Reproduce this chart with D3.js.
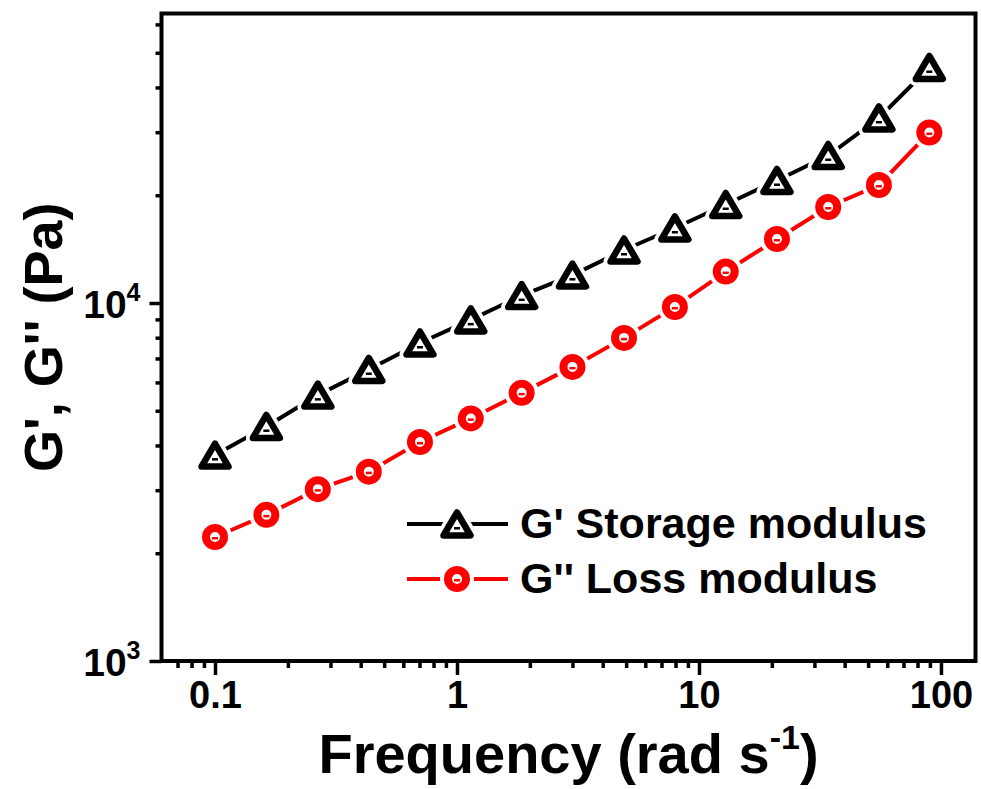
<!DOCTYPE html>
<html>
<head>
<meta charset="utf-8">
<script src="https://cdn.jsdelivr.net/npm/d3@7"></script>
<style>
  body { margin: 0; background: #fff; }
  svg { display: block; font-family: "Liberation Sans", Arial, sans-serif; }
</style>
</head>
<body>
<svg width="981" height="789"></svg>
<script>
// frequency sweep (rad/s) and moduli (Pa)
var freq = [0.1, 0.163, 0.266, 0.432, 0.703, 1.14, 1.85, 3.0, 4.9, 7.95, 12.9, 21.0, 34.2, 55.4, 89.5];
var storage = [3760, 4520, 5530, 6520, 7730, 8970, 10490, 11970, 14060, 16200, 18840, 21990, 25820, 32870, 45490];
var loss = [2220, 2560, 3020, 3380, 4090, 4760, 5610, 6630, 7990, 9750, 12240, 15090, 18540, 21360, 29930];
var xTicks = [0.1, 1, 10, 100];
var xTickLabels = ["0.1", "1", "10", "100"];
var yTicks = [1000, 10000];
var yTickExp = ["3", "4"];
var legendLabels = ["G' Storage modulus", "G'' Loss modulus"];

var svg = d3.select("svg");

var pLeft = 161.5, pRight = 975.5, pTop = 13.5, pBottom = 661;
var x = d3.scaleLog().domain([0.0601, 138.9]).range([pLeft, pRight]);
var y = d3.scaleLog().domain([1000, 64370]).range([pBottom, pTop]);

//次刻度
var xMinor = [];
[0.01, 0.1, 1, 10, 100].forEach(function(p){
    d3.range(2, 10).forEach(function(k){
        var v = p * k;
        if (v > 0.0605 && v < 138) xMinor.push(v);
    });
});
var yMinor = [];
[1000, 10000].forEach(function(p){
    d3.range(2, 10).forEach(function(k){
        var v = p * k;
        if (v < 64000) yMinor.push(v);
    });
});

//x轴
var gx = svg.append("g").attr("transform", "translate(0," + pBottom + ")");
gx.call(d3.axisBottom(x).tickValues(xMinor).tickSize(7).tickFormat(""));
var gxMajor = gx.append("g").call(d3.axisBottom(x).tickValues(xTicks).tickSize(14).tickFormat(function(d, i){ return xTickLabels[i]; }));
gx.selectAll(".domain").remove();
gx.selectAll("line").attr("stroke", "#000").attr("stroke-width", 3.5);
gxMajor.selectAll("text")
  .attr("fill", "#000")
  .attr("font-size", 38)
  .attr("font-weight", "bold")
  .attr("y", 20);

//y轴
var gy = svg.append("g").attr("transform", "translate(" + pLeft + ",0)");
gy.call(d3.axisLeft(y).tickValues(yMinor).tickSize(6).tickFormat(""));
var gyMajor = gy.append("g").call(d3.axisLeft(y).tickValues(yTicks).tickSize(12).tickFormat(""));
gy.selectAll(".domain").remove();
gy.selectAll("line").attr("stroke", "#000").attr("stroke-width", 3.5);
gyMajor.selectAll(".tick").append("text")
  .attr("x", -21)
  .attr("dy", 14)
  .attr("text-anchor", "end")
  .attr("fill", "#000")
  .attr("font-size", 39)
  .attr("font-weight", "bold")
  .each(function(d, i){
      var t = d3.select(this);
      t.append("tspan").text("10");
      t.append("tspan").attr("font-size", 25).attr("dy", -17).text(yTickExp[i]);
  });

//边框
svg.append("rect")
  .attr("x", pLeft).attr("y", pTop)
  .attr("width", pRight - pLeft).attr("height", pBottom - pTop)
  .attr("fill", "none").attr("stroke", "#000").attr("stroke-width", 4);

//标记
var triPath = "M0,-11.5L13.5,11.5L-13.5,11.5Z";
function triangle(g, color){
    g.append("path").attr("d", triPath).attr("fill", "none").attr("stroke", "#fff").attr("stroke-width", 14).attr("stroke-linejoin", "round");
    g.append("path").attr("d", triPath).attr("fill", "#fff").attr("stroke", color).attr("stroke-width", 6.5).attr("stroke-linejoin", "round");
    g.append("rect").attr("x", -3).attr("y", 3).attr("width", 6).attr("height", 2.5).attr("fill", color);
}
function ring(g, color){
    g.append("circle").attr("r", 9).attr("fill", "none").attr("stroke", "#fff").attr("stroke-width", 16);
    g.append("circle").attr("r", 9).attr("fill", "#fff").attr("stroke", color).attr("stroke-width", 8);
    g.append("rect").attr("x", -3).attr("y", 0).attr("width", 6).attr("height", 2.5).attr("fill", color);
}

var series = [
    {values: storage, color: "#000", marker: triangle},
    {values: loss, color: "#ff0000", marker: ring}
];

var line = d3.line().x(function(d){ return x(d[0]); }).y(function(d){ return y(d[1]); });

series.forEach(function(s){
    var pts = freq.map(function(f, i){ return [f, s.values[i]]; });
    svg.append("path")
      .attr("d", line(pts))
      .attr("fill", "none")
      .attr("stroke", s.color)
      .attr("stroke-width", 4);
    svg.selectAll(null).data(pts).enter().append("g")
      .attr("transform", function(d){ return "translate(" + x(d[0]) + "," + y(d[1]) + ")"; })
      .each(function(){ s.marker(d3.select(this), s.color); });
});

//图例
var legend = svg.append("g");
series.forEach(function(s, i){
    var ly = 524 + i * 55;
    legend.append("line")
      .attr("x1", 407).attr("x2", 508).attr("y1", ly).attr("y2", ly)
      .attr("stroke", s.color).attr("stroke-width", 4);
    s.marker(legend.append("g").attr("transform", "translate(457," + ly + ")"), s.color);
    legend.append("text")
      .attr("x", 520).attr("y", ly + 14)
      .attr("font-size", 43).attr("font-weight", "bold")
      .attr("fill", "#000")
      .text(legendLabels[i]);
});

//轴标题
svg.append("text")
  .attr("x", (pLeft + pRight) / 2).attr("y", 773)
  .attr("text-anchor", "middle")
  .attr("font-size", 56).attr("font-weight", "bold")
  .call(function(t){
      t.append("tspan").text("Frequency (rad s");
      t.append("tspan").attr("font-size", 34).attr("dy", -24).text("-1");
      t.append("tspan").attr("dy", 24).text(")");
  });

svg.append("text")
  .attr("transform", "translate(62," + (pTop + pBottom) / 2 + ") rotate(-90)")
  .attr("text-anchor", "middle")
  .attr("font-size", 54).attr("font-weight", "bold")
  .text("G', G'' (Pa)");
</script>
</body>
</html>
